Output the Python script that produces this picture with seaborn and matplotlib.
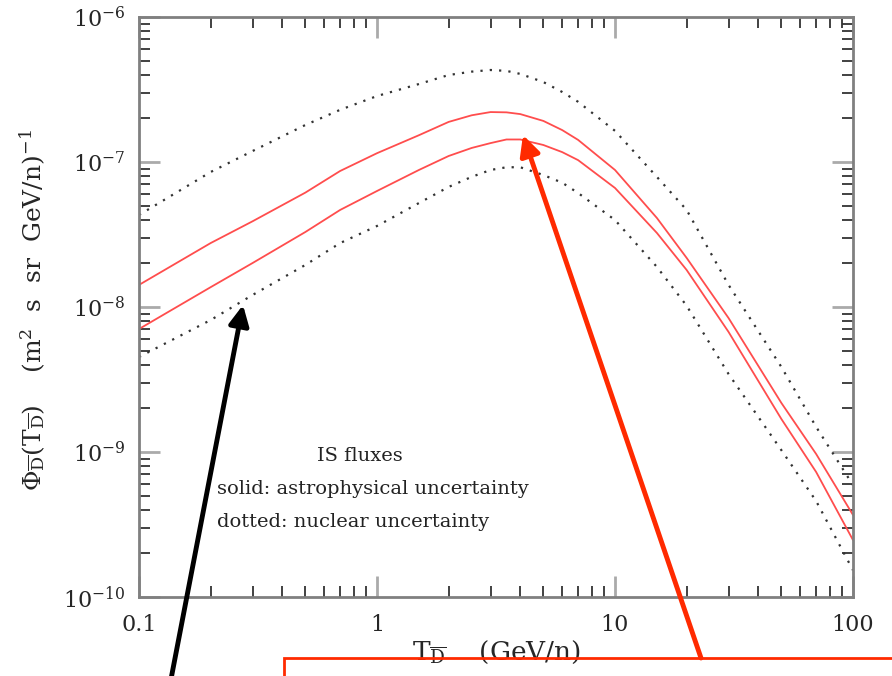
import numpy as np
import pandas as pd
import matplotlib
matplotlib.use("Agg")
import matplotlib.pyplot as plt
import seaborn as sns
from matplotlib.patches import Rectangle, FancyArrowPatch

# kinetic energy per nucleon (GeV/n)
T_vals = [0.1, 0.2, 0.3, 0.5, 0.7, 1, 1.5, 2, 2.5, 3, 3.5, 4, 5, 6, 7, 10, 15, 20, 30, 50, 70, 100]

# IS antideuteron fluxes (m^2 s sr GeV/n)^-1
nuc_upper = [4.31e-8, 8.53e-8, 1.19e-7, 1.80e-7, 2.29e-7, 2.85e-7, 3.45e-7, 3.98e-7, 4.20e-7, 4.31e-7,
             4.25e-7, 4.05e-7, 3.56e-7, 3.04e-7, 2.60e-7, 1.64e-7, 7.89e-8, 4.67e-8, 1.42e-8, 3.86e-9,
             1.49e-9, 5.91e-10]
astro_upper = [1.42e-8, 2.76e-8, 3.90e-8, 6.15e-8, 8.67e-8, 1.15e-7, 1.53e-7, 1.89e-7, 2.10e-7, 2.21e-7,
               2.20e-7, 2.14e-7, 1.92e-7, 1.66e-7, 1.42e-7, 8.81e-8, 4.11e-8, 2.18e-8, 8.39e-9, 2.18e-9,
               9.69e-10, 3.68e-10]
astro_lower = [7.05e-9, 1.37e-8, 2.01e-8, 3.29e-8, 4.67e-8, 6.31e-8, 8.81e-8, 1.10e-7, 1.25e-7, 1.35e-7,
               1.43e-7, 1.43e-7, 1.31e-7, 1.17e-7, 1.03e-7, 6.62e-8, 3.24e-8, 1.80e-8, 6.73e-9, 1.69e-9,
               7.28e-10, 2.47e-10]
nuc_lower = [4.52e-9, 8.13e-9, 1.21e-8, 1.95e-8, 2.76e-8, 3.62e-8, 5.21e-8, 6.73e-8, 7.90e-8, 8.81e-8,
             9.20e-8, 9.20e-8, 8.13e-8, 7.20e-8, 6.11e-8, 3.98e-8, 1.89e-8, 1.02e-8, 3.45e-9, 1.03e-9,
             4.59e-10, 1.53e-10]

x_ticks = [0.1, 1, 10, 100]
x_ticklabels = ["0.1", "1", "10", "100"]
note_lines = ["IS fluxes", "solid: astrophysical uncertainty", "dotted: nuclear uncertainty"]

sns.set_style("ticks")
plt.rcParams['font.family'] = ['DejaVu Serif']
plt.rcParams['mathtext.fontset'] = 'dejavuserif'

fig = plt.figure(figsize=(8.92, 6.76), dpi=100)
ax = fig.add_axes([139 / 892, 1 - 597 / 676, 714 / 892, 580 / 676])

# curves
for vals in [astro_upper, astro_lower]:
    sns.lineplot(x=T_vals, y=vals, ax=ax, color="#ff4d4d", lw=1.3, sort=False)
for vals in [nuc_upper, nuc_lower]:
    sns.lineplot(x=T_vals, y=vals, ax=ax, color="#333333", lw=1.6,
                 linestyle=(0, (1, 3.2)), sort=False)

ax.set_xscale("log")
ax.set_yscale("log")
ax.set_xlim(0.1, 100)
ax.set_ylim(1e-10, 1e-6)
ax.set_xticks(x_ticks)
ax.set_xticklabels(x_ticklabels)

# grey box, inward ticks on all sides
for sp in ax.spines.values():
    sp.set_color("#808080")
    sp.set_linewidth(2)
ax.tick_params(which="both", direction="in", top=True, right=True, labelsize=16)
ax.tick_params(axis="x", pad=12)
ax.tick_params(axis="y", pad=10)
ax.tick_params(which="major", length=15, width=2, color="#aaaaaa")
ax.tick_params(which="minor", length=8, width=1.3, color="#333333")

ax.set_xlabel(r"$\mathrm{T}_{\overline{\mathrm{D}}}$    (GeV/n)", fontsize=19)
ax.xaxis.set_label_coords(0.501, -0.072)
ax.set_ylabel(r"$\mathit{\Phi}_{\overline{\mathrm{D}}}(\mathrm{T}_{\overline{\mathrm{D}}})$    "
              r"(m$^2$  s  sr  GeV/n)$^{-1}$", fontsize=18)
ax.yaxis.set_label_coords(-0.127, 0.495)

# notes in the plot
ax.text(0.31, 0.243, note_lines[0], transform=ax.transAxes, ha="center", va="center",
        fontsize=14, color="#222222")
ax.text(0.109, 0.186, note_lines[1], transform=ax.transAxes, ha="left", va="center",
        fontsize=14, color="#222222")
ax.text(0.109, 0.129, note_lines[2], transform=ax.transAxes, ha="left", va="center",
        fontsize=14, color="#222222")

# arrows and box on top of the figure
fig.add_artist(FancyArrowPatch((169 / 892, -0.02), (243 / 892, 1 - 305 / 676),
                               transform=fig.transFigure, arrowstyle="-|>,head_length=12,head_width=6",
                               color="black", lw=3.5, shrinkA=0, shrinkB=0))
fig.add_artist(FancyArrowPatch((701 / 892, 1 - 658 / 676), (523 / 892, 1 - 135 / 676),
                               transform=fig.transFigure, arrowstyle="-|>,head_length=12,head_width=6",
                               color="#ff2a00", lw=3.5, shrinkA=0, shrinkB=0))
fig.add_artist(Rectangle((284 / 892, -0.1), 0.8, 0.1 + 18 / 676, transform=fig.transFigure,
                         fill=False, ec="#ff2a00", lw=2, clip_on=False))

fig.savefig("out.png", dpi=100)
